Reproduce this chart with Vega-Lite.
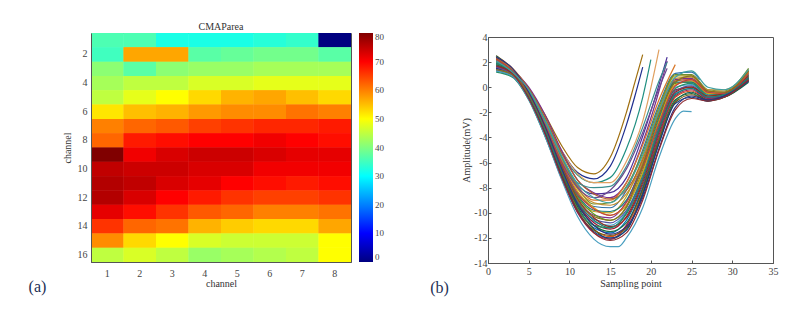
{"$schema":"https://vega.github.io/schema/vega-lite/v6.json","background":"white","padding":{"left":28,"top":21,"right":0,"bottom":0},"spacing":44,"config":{"view":{"stroke":"#555","strokeWidth":1},"font":"Liberation Serif","axis":{"grid":false,"labelFont":"Liberation Serif","titleFont":"Liberation Serif","labelFontSize":10,"titleFontSize":10,"labelColor":"#444","titleColor":"#333","titleFontWeight":"normal","domainColor":"#555","tickColor":"#555","tickSize":-3,"labelPadding":6,"labelAngle":0,"labelOverlap":false,"labelBound":false,"labelFlush":false},"legend":{"labelFont":"Liberation Serif","labelFontSize":9,"labelColor":"#444"}},"hconcat":[{"width":260,"height":229,"title":{"text":"CMAParea","font":"Liberation Serif","fontSize":10,"fontWeight":"normal","color":"#333","offset":1},"layer":[{"data":{"values":[
{"r":1,"c":1,"v":36},{"r":1,"c":2,"v":36},{"r":1,"c":3,"v":32},{"r":1,"c":4,"v":32},{"r":1,"c":5,"v":32},{"r":1,"c":6,"v":33},{"r":1,"c":7,"v":34},{"r":1,"c":8,"v":0},
{"r":2,"c":1,"v":35},{"r":2,"c":2,"v":57},{"r":2,"c":3,"v":57},{"r":2,"c":4,"v":37},{"r":2,"c":5,"v":38},{"r":2,"c":6,"v":39},{"r":2,"c":7,"v":39},{"r":2,"c":8,"v":37},
{"r":3,"c":1,"v":41},{"r":3,"c":2,"v":37},{"r":3,"c":3,"v":41},{"r":3,"c":4,"v":42},{"r":3,"c":5,"v":42},{"r":3,"c":6,"v":43},{"r":3,"c":7,"v":43},{"r":3,"c":8,"v":43},
{"r":4,"c":1,"v":43},{"r":4,"c":2,"v":45},{"r":4,"c":3,"v":45},{"r":4,"c":4,"v":47},{"r":4,"c":5,"v":47},{"r":4,"c":6,"v":48},{"r":4,"c":7,"v":48},{"r":4,"c":8,"v":48},
{"r":5,"c":1,"v":45},{"r":5,"c":2,"v":48},{"r":5,"c":3,"v":50},{"r":5,"c":4,"v":53},{"r":5,"c":5,"v":56},{"r":5,"c":6,"v":57},{"r":5,"c":7,"v":55},{"r":5,"c":8,"v":53},
{"r":6,"c":1,"v":52},{"r":6,"c":2,"v":55},{"r":6,"c":3,"v":56},{"r":6,"c":4,"v":58},{"r":6,"c":5,"v":59},{"r":6,"c":6,"v":59},{"r":6,"c":7,"v":61},{"r":6,"c":8,"v":60},
{"r":7,"c":1,"v":60},{"r":7,"c":2,"v":62},{"r":7,"c":3,"v":63},{"r":7,"c":4,"v":65},{"r":7,"c":5,"v":66},{"r":7,"c":6,"v":67},{"r":7,"c":7,"v":67},{"r":7,"c":8,"v":68},
{"r":8,"c":1,"v":62},{"r":8,"c":2,"v":68},{"r":8,"c":3,"v":69},{"r":8,"c":4,"v":70},{"r":8,"c":5,"v":70},{"r":8,"c":6,"v":71},{"r":8,"c":7,"v":70},{"r":8,"c":8,"v":69},
{"r":9,"c":1,"v":80},{"r":9,"c":2,"v":71},{"r":9,"c":3,"v":73},{"r":9,"c":4,"v":74},{"r":9,"c":5,"v":74},{"r":9,"c":6,"v":73},{"r":9,"c":7,"v":72},{"r":9,"c":8,"v":72},
{"r":10,"c":1,"v":75},{"r":10,"c":2,"v":74},{"r":10,"c":3,"v":74},{"r":10,"c":4,"v":73},{"r":10,"c":5,"v":73},{"r":10,"c":6,"v":71},{"r":10,"c":7,"v":71},{"r":10,"c":8,"v":71},
{"r":11,"c":1,"v":76},{"r":11,"c":2,"v":75},{"r":11,"c":3,"v":73},{"r":11,"c":4,"v":72},{"r":11,"c":5,"v":70},{"r":11,"c":6,"v":69},{"r":11,"c":7,"v":68},{"r":11,"c":8,"v":69},
{"r":12,"c":1,"v":76},{"r":12,"c":2,"v":73},{"r":12,"c":3,"v":70},{"r":12,"c":4,"v":68},{"r":12,"c":5,"v":66},{"r":12,"c":6,"v":65},{"r":12,"c":7,"v":65},{"r":12,"c":8,"v":66},
{"r":13,"c":1,"v":72},{"r":13,"c":2,"v":69},{"r":13,"c":3,"v":66},{"r":13,"c":4,"v":63},{"r":13,"c":5,"v":62},{"r":13,"c":6,"v":60},{"r":13,"c":7,"v":60},{"r":13,"c":8,"v":61},
{"r":14,"c":1,"v":66},{"r":14,"c":2,"v":62},{"r":14,"c":3,"v":61},{"r":14,"c":4,"v":56},{"r":14,"c":5,"v":54},{"r":14,"c":6,"v":53},{"r":14,"c":7,"v":53},{"r":14,"c":8,"v":57},
{"r":15,"c":1,"v":59},{"r":15,"c":2,"v":53},{"r":15,"c":3,"v":50},{"r":15,"c":4,"v":47},{"r":15,"c":5,"v":46},{"r":15,"c":6,"v":46},{"r":15,"c":7,"v":46},{"r":15,"c":8,"v":50},
{"r":16,"c":1,"v":45},{"r":16,"c":2,"v":47},{"r":16,"c":3,"v":45},{"r":16,"c":4,"v":42},{"r":16,"c":5,"v":43},{"r":16,"c":6,"v":44},{"r":16,"c":7,"v":45},{"r":16,"c":8,"v":50}
]},"encoding":{"x":{"field":"c","type":"ordinal","title":"channel","scale":{"paddingInner":0,"paddingOuter":0},"axis":{"tickSize":0,"titlePadding":0}},"y":{"field":"r","type":"ordinal","title":"channel","scale":{"paddingInner":0,"paddingOuter":0},"axis":{"values":[2,4,6,8,10,12,14,16],"tickSize":0,"labelPadding":4,"titlePadding":5}},"color":{"field":"v","type":"quantitative","scale":{"domain":[0,10,30,50,70,80],"range":["#000080","#0000ff","#00ffff","#ffff00","#ff0000","#800000"],"interpolate":"rgb"},"legend":{"title":null,"type":"gradient","values":[0,10,20,30,40,50,60,70,80],"gradientLength":229,"gradientThickness":14,"offset":8}}},"layer":[{"mark":{"type":"rect"}},{"mark":{"type":"rect"}}]},{"data":{"values":[{"label":"(a)","px":-0.24,"py":-0.11}]},"mark":{"type":"text","font":"Liberation Serif","fontSize":16,"color":"#1c2f55","align":"left"},"encoding":{"x":{"field":"px","type":"quantitative","scale":{"domain":[0,1]},"axis":null},"y":{"field":"py","type":"quantitative","scale":{"domain":[0,1]},"axis":null},"text":{"field":"label"}}}],"resolve":{"scale":{"x":"independent","y":"independent"},"axis":{"x":"independent","y":"independent"}}},{"spacing":-5,"vconcat":[{"width":285,"height":3,"view":{"stroke":null},"data":{"values":[]},"mark":{"type":"rule"},"encoding":{}},{"width":285,"height":226,"layer":[{"data":{"values":[
{"s":1,"x":1,"y":2.3},{"s":1,"x":3,"y":1.5},{"s":1,"x":5,"y":-0.1},{"s":1,"x":7,"y":-2.2},{"s":1,"x":9,"y":-4.6},{"s":1,"x":11,"y":-6.4},{"s":1,"x":13,"y":-6.9},{"s":1,"x":15,"y":-5.6},{"s":1,"x":17,"y":-2},{"s":1,"x":18,"y":0.3},{"s":1,"x":19,"y":2.6},
{"s":2,"x":1,"y":1.6},{"s":2,"x":3,"y":1.1},{"s":2,"x":5,"y":-0.4},{"s":2,"x":7,"y":-2.5},{"s":2,"x":9,"y":-5},{"s":2,"x":11,"y":-6.8},{"s":2,"x":13,"y":-7.3},{"s":2,"x":15,"y":-6.3},{"s":2,"x":17,"y":-3},{"s":2,"x":18,"y":-0.8},{"s":2,"x":19,"y":1.6},
{"s":3,"x":1,"y":2},{"s":3,"x":3,"y":1.2},{"s":3,"x":5,"y":-0.3},{"s":3,"x":7,"y":-2.6},{"s":3,"x":9,"y":-5.2},{"s":3,"x":11,"y":-7},{"s":3,"x":13,"y":-7.6},{"s":3,"x":15,"y":-7.2},{"s":3,"x":17,"y":-4.9},{"s":3,"x":19,"y":-0.8},{"s":3,"x":20,"y":2.2},
{"s":4,"x":1,"y":2.2},{"s":4,"x":3,"y":1.3},{"s":4,"x":5,"y":-0.2},{"s":4,"x":7,"y":-2.4},{"s":4,"x":9,"y":-5},{"s":4,"x":11,"y":-6.9},{"s":4,"x":13,"y":-7.6},{"s":4,"x":15,"y":-7.6},{"s":4,"x":17,"y":-5.9},{"s":4,"x":19,"y":-2.7},{"s":4,"x":21,"y":3},
{"s":5,"x":1,"y":1.7},{"s":5,"x":3,"y":1.1},{"s":5,"x":5,"y":-0.5},{"s":5,"x":7,"y":-2.9},{"s":5,"x":9,"y":-5.7},{"s":5,"x":11,"y":-7.8},{"s":5,"x":13,"y":-8.5},{"s":5,"x":15,"y":-8.4},{"s":5,"x":17,"y":-7.2},{"s":5,"x":19,"y":-3.9},{"s":5,"x":21,"y":0.2},{"s":5,"x":22,"y":2.4},
{"s":6,"x":1,"y":2.3},{"s":6,"x":3,"y":1.4},{"s":6,"x":5,"y":0},{"s":6,"x":7,"y":-2.2},{"s":6,"x":9,"y":-5},{"s":6,"x":11,"y":-7.4},{"s":6,"x":13,"y":-8.4},{"s":6,"x":15,"y":-8.8},{"s":6,"x":17,"y":-7.6},{"s":6,"x":19,"y":-4.4},{"s":6,"x":21,"y":-0.3},{"s":6,"x":22,"y":2.1},
{"s":7,"x":1,"y":2.5},{"s":7,"x":3,"y":1.5},{"s":7,"x":5,"y":-0.2},{"s":7,"x":7,"y":-2.6},{"s":7,"x":9,"y":-5.5},{"s":7,"x":11,"y":-7.9},{"s":7,"x":13,"y":-9},{"s":7,"x":15,"y":-9},{"s":7,"x":17,"y":-7.6},{"s":7,"x":19,"y":-4.6},{"s":7,"x":21,"y":-1},{"s":7,"x":23,"y":1.8},
{"s":8,"x":1,"y":1.9},{"s":8,"x":3,"y":1.2},{"s":8,"x":5,"y":-0.5},{"s":8,"x":7,"y":-3},{"s":8,"x":9,"y":-6},{"s":8,"x":11,"y":-8.4},{"s":8,"x":13,"y":-9.5},{"s":8,"x":15,"y":-9.6},{"s":8,"x":17,"y":-8.2},{"s":8,"x":19,"y":-5},{"s":8,"x":21,"y":-1.4},{"s":8,"x":23,"y":1.1},{"s":8,"x":25,"y":1.2},{"s":8,"x":26,"y":0.6},
{"s":9,"x":1,"y":2.1},{"s":9,"x":3,"y":1.3},{"s":9,"x":5,"y":-0.6},{"s":9,"x":7,"y":-3.2},{"s":9,"x":9,"y":-6.3},{"s":9,"x":11,"y":-8.8},{"s":9,"x":13,"y":-9.9},{"s":9,"x":15,"y":-10},{"s":9,"x":17,"y":-8.7},{"s":9,"x":19,"y":-5.6},{"s":9,"x":21,"y":-1.8},{"s":9,"x":23,"y":0.9},{"s":9,"x":25,"y":0.9},{"s":9,"x":27,"y":-0.3},{"s":9,"x":29,"y":-0.4},{"s":9,"x":32,"y":1.4},
{"s":10,"x":1,"y":1.5},{"s":10,"x":3,"y":1},{"s":10,"x":5,"y":-0.7},{"s":10,"x":7,"y":-3.3},{"s":10,"x":9,"y":-6.4},{"s":10,"x":11,"y":-8.9},{"s":10,"x":13,"y":-10.2},{"s":10,"x":15,"y":-10.4},{"s":10,"x":17,"y":-9.1},{"s":10,"x":19,"y":-6},{"s":10,"x":21,"y":-2},{"s":10,"x":23,"y":0.6},{"s":10,"x":25,"y":0.7},{"s":10,"x":27,"y":-0.4},{"s":10,"x":29,"y":-0.5},{"s":10,"x":32,"y":1.2},
{"s":11,"x":1,"y":2.4},{"s":11,"x":3,"y":1.4},{"s":11,"x":5,"y":-0.4},{"s":11,"x":7,"y":-3},{"s":11,"x":9,"y":-6.1},{"s":11,"x":11,"y":-8.7},{"s":11,"x":13,"y":-10.1},{"s":11,"x":15,"y":-10.6},{"s":11,"x":17,"y":-9.6},{"s":11,"x":19,"y":-6.6},{"s":11,"x":21,"y":-2.6},{"s":11,"x":23,"y":0.3},{"s":11,"x":25,"y":0.4},{"s":11,"x":27,"y":-0.5},{"s":11,"x":29,"y":-0.6},{"s":11,"x":32,"y":1},
{"s":12,"x":1,"y":1.8},{"s":12,"x":3,"y":1.1},{"s":12,"x":5,"y":-0.8},{"s":12,"x":7,"y":-3.5},{"s":12,"x":9,"y":-6.7},{"s":12,"x":11,"y":-9.3},{"s":12,"x":13,"y":-10.7},{"s":12,"x":15,"y":-11},{"s":12,"x":17,"y":-9.9},{"s":12,"x":19,"y":-6.9},{"s":12,"x":21,"y":-2.9},{"s":12,"x":23,"y":0},{"s":12,"x":25,"y":0.2},{"s":12,"x":27,"y":-0.7},{"s":12,"x":29,"y":-0.6},{"s":12,"x":32,"y":0.9},
{"s":13,"x":1,"y":2.3},{"s":13,"x":3,"y":1.3},{"s":13,"x":5,"y":-0.6},{"s":13,"x":7,"y":-3.3},{"s":13,"x":9,"y":-6.5},{"s":13,"x":11,"y":-9.2},{"s":13,"x":13,"y":-10.8},{"s":13,"x":15,"y":-11.3},{"s":13,"x":17,"y":-10.3},{"s":13,"x":19,"y":-7.4},{"s":13,"x":21,"y":-3.2},{"s":13,"x":23,"y":-0.2},{"s":13,"x":25,"y":0},{"s":13,"x":27,"y":-0.8},{"s":13,"x":29,"y":-0.7},{"s":13,"x":32,"y":0.8},
{"s":14,"x":1,"y":1.3},{"s":14,"x":3,"y":0.9},{"s":14,"x":5,"y":-0.9},{"s":14,"x":7,"y":-3.7},{"s":14,"x":9,"y":-7},{"s":14,"x":11,"y":-9.7},{"s":14,"x":13,"y":-11.2},{"s":14,"x":15,"y":-11.6},{"s":14,"x":17,"y":-10.6},{"s":14,"x":19,"y":-7.8},{"s":14,"x":21,"y":-3.6},{"s":14,"x":23,"y":-0.5},{"s":14,"x":25,"y":-0.1},{"s":14,"x":27,"y":-0.9},{"s":14,"x":29,"y":-0.7},{"s":14,"x":32,"y":0.6},
{"s":15,"x":1,"y":2},{"s":15,"x":3,"y":1.2},{"s":15,"x":5,"y":-0.7},{"s":15,"x":7,"y":-3.5},{"s":15,"x":9,"y":-6.8},{"s":15,"x":11,"y":-9.6},{"s":15,"x":13,"y":-11.3},{"s":15,"x":15,"y":-11.9},{"s":15,"x":17,"y":-11},{"s":15,"x":19,"y":-8.2},{"s":15,"x":21,"y":-4},{"s":15,"x":23,"y":-0.8},{"s":15,"x":25,"y":-0.3},{"s":15,"x":27,"y":-1},{"s":15,"x":29,"y":-0.8},{"s":15,"x":32,"y":0.5},
{"s":16,"x":1,"y":2.5},{"s":16,"x":3,"y":1.4},{"s":16,"x":5,"y":-0.5},{"s":16,"x":7,"y":-3.2},{"s":16,"x":9,"y":-6.6},{"s":16,"x":11,"y":-9.5},{"s":16,"x":13,"y":-11.3},{"s":16,"x":15,"y":-12.1},{"s":16,"x":17,"y":-11.3},{"s":16,"x":19,"y":-8.6},{"s":16,"x":21,"y":-4.4},{"s":16,"x":23,"y":-1.1},{"s":16,"x":25,"y":-0.4},{"s":16,"x":27,"y":-1},{"s":16,"x":29,"y":-0.8},{"s":16,"x":32,"y":0.4},
{"s":17,"x":1,"y":1.6},{"s":17,"x":3,"y":1},{"s":17,"x":5,"y":-0.9},{"s":17,"x":7,"y":-3.8},{"s":17,"x":9,"y":-7.2},{"s":17,"x":11,"y":-10},{"s":17,"x":13,"y":-11.6},{"s":17,"x":15,"y":-12.1},{"s":17,"x":17,"y":-11},{"s":17,"x":19,"y":-8},{"s":17,"x":21,"y":-3.8},{"s":17,"x":23,"y":-0.7},{"s":17,"x":25,"y":-0.2},{"s":17,"x":27,"y":-0.9},{"s":17,"x":29,"y":-0.7},{"s":17,"x":32,"y":0.6},
{"s":18,"x":1,"y":1.2},{"s":18,"x":3,"y":0.8},{"s":18,"x":5,"y":-1},{"s":18,"x":7,"y":-3.9},{"s":18,"x":9,"y":-7.1},{"s":18,"x":11,"y":-9.7},{"s":18,"x":13,"y":-11},{"s":18,"x":15,"y":-11.2},{"s":18,"x":17,"y":-10},{"s":18,"x":19,"y":-7},{"s":18,"x":21,"y":-3},{"s":18,"x":23,"y":-0.1},{"s":18,"x":25,"y":0.3},{"s":18,"x":27,"y":-0.7},{"s":18,"x":29,"y":-0.6},{"s":18,"x":32,"y":0.8},
{"s":19,"x":1,"y":2.2},{"s":19,"x":3,"y":1.3},{"s":19,"x":5,"y":-0.4},{"s":19,"x":7,"y":-2.9},{"s":19,"x":9,"y":-5.8},{"s":19,"x":11,"y":-8.3},{"s":19,"x":13,"y":-9.6},{"s":19,"x":15,"y":-10.2},{"s":19,"x":17,"y":-9.4},{"s":19,"x":19,"y":-6.8},{"s":19,"x":21,"y":-2.7},{"s":19,"x":23,"y":0.2},{"s":19,"x":25,"y":0.5},{"s":19,"x":27,"y":-0.5},{"s":19,"x":29,"y":-0.5},{"s":19,"x":32,"y":1.1},
{"s":20,"x":1,"y":1.9},{"s":20,"x":3,"y":1.2},{"s":20,"x":5,"y":-0.3},{"s":20,"x":7,"y":-2.7},{"s":20,"x":9,"y":-5.6},{"s":20,"x":11,"y":-8},{"s":20,"x":13,"y":-9.3},{"s":20,"x":15,"y":-9.2},{"s":20,"x":17,"y":-7.9},{"s":20,"x":19,"y":-5.2},{"s":20,"x":21,"y":-1.6},{"s":20,"x":23,"y":1},{"s":20,"x":25,"y":1},{"s":20,"x":27,"y":-0.2},{"s":20,"x":29,"y":-0.3},{"s":20,"x":32,"y":1.5},
{"s":21,"x":1,"y":2.3},{"s":21,"x":3,"y":1.4},{"s":21,"x":5,"y":-0.1},{"s":21,"x":7,"y":-2.4},{"s":21,"x":9,"y":-5.2},{"s":21,"x":11,"y":-7.4},{"s":21,"x":13,"y":-8.5},{"s":21,"x":15,"y":-8.9},{"s":21,"x":17,"y":-8.2},{"s":21,"x":19,"y":-5.8},{"s":21,"x":21,"y":-2.2},{"s":21,"x":23,"y":0.5},{"s":21,"x":25,"y":0.6},{"s":21,"x":27,"y":-0.3},{"s":21,"x":29,"y":-0.4},{"s":21,"x":32,"y":1.3},
{"s":22,"x":1,"y":1.7},{"s":22,"x":3,"y":1.1},{"s":22,"x":5,"y":-0.6},{"s":22,"x":7,"y":-3.1},{"s":22,"x":9,"y":-6.1},{"s":22,"x":11,"y":-8.6},{"s":22,"x":13,"y":-9.8},{"s":22,"x":15,"y":-9.9},{"s":22,"x":17,"y":-9},{"s":22,"x":19,"y":-6.3},{"s":22,"x":21,"y":-2.4},{"s":22,"x":23,"y":0.4},{"s":22,"x":25,"y":0.4},{"s":22,"x":27,"y":-0.6},{"s":22,"x":29,"y":-0.6},{"s":22,"x":32,"y":1},
{"s":23,"x":1,"y":2.4},{"s":23,"x":3,"y":1.4},{"s":23,"x":5,"y":-0.3},{"s":23,"x":7,"y":-2.8},{"s":23,"x":9,"y":-5.7},{"s":23,"x":11,"y":-8.1},{"s":23,"x":13,"y":-9.2},{"s":23,"x":15,"y":-9.4},{"s":23,"x":17,"y":-8.5},{"s":23,"x":19,"y":-6},{"s":23,"x":21,"y":-2.1},{"s":23,"x":23,"y":0.7},{"s":23,"x":25,"y":0.8},{"s":23,"x":27,"y":-0.2},{"s":23,"x":29,"y":-0.2},{"s":23,"x":32,"y":1.2},
{"s":24,"x":1,"y":1.4},{"s":24,"x":3,"y":0.9},{"s":24,"x":5,"y":-0.8},{"s":24,"x":7,"y":-3.4},{"s":24,"x":9,"y":-6.6},{"s":24,"x":11,"y":-9.1},{"s":24,"x":13,"y":-10.5},{"s":24,"x":15,"y":-10.8},{"s":24,"x":17,"y":-9.8},{"s":24,"x":19,"y":-7.2},{"s":24,"x":21,"y":-3.3},{"s":24,"x":23,"y":-0.3},{"s":24,"x":25,"y":0.1},{"s":24,"x":27,"y":-0.8},{"s":24,"x":29,"y":-0.7},{"s":24,"x":32,"y":0.7},
{"s":25,"x":1,"y":2.1},{"s":25,"x":3,"y":1.3},{"s":25,"x":5,"y":-0.5},{"s":25,"x":7,"y":-3.1},{"s":25,"x":9,"y":-6.2},{"s":25,"x":11,"y":-8.9},{"s":25,"x":13,"y":-10.4},{"s":25,"x":15,"y":-11.1},{"s":25,"x":17,"y":-10.4},{"s":25,"x":19,"y":-7.6},{"s":25,"x":21,"y":-3.5},{"s":25,"x":23,"y":-0.4},{"s":25,"x":25,"y":0},{"s":25,"x":27,"y":-0.7},{"s":25,"x":29,"y":-0.5},{"s":25,"x":32,"y":0.9},
{"s":26,"x":1,"y":1.8},{"s":26,"x":3,"y":1.1},{"s":26,"x":5,"y":-0.7},{"s":26,"x":7,"y":-3.6},{"s":26,"x":9,"y":-6.9},{"s":26,"x":11,"y":-9.4},{"s":26,"x":13,"y":-11},{"s":26,"x":15,"y":-11.5},{"s":26,"x":17,"y":-10.8},{"s":26,"x":19,"y":-8.1},{"s":26,"x":21,"y":-4.2},{"s":26,"x":23,"y":-1},{"s":26,"x":25,"y":-0.5},{"s":26,"x":27,"y":-1.1},{"s":26,"x":29,"y":-0.8},{"s":26,"x":32,"y":0.5},
{"s":27,"x":1,"y":2.2},{"s":27,"x":3,"y":1.2},{"s":27,"x":5,"y":-0.6},{"s":27,"x":7,"y":-3.4},{"s":27,"x":9,"y":-6.8},{"s":27,"x":11,"y":-9.8},{"s":27,"x":13,"y":-11.4},{"s":27,"x":15,"y":-11.8},{"s":27,"x":17,"y":-11.2},{"s":27,"x":19,"y":-8.4},{"s":27,"x":21,"y":-4.3},{"s":27,"x":23,"y":-1.2},{"s":27,"x":25,"y":-0.6},{"s":27,"x":27,"y":-1},{"s":27,"x":29,"y":-0.7},{"s":27,"x":32,"y":0.6},
{"s":28,"x":1,"y":1.5},{"s":28,"x":3,"y":1},{"s":28,"x":5,"y":-0.8},{"s":28,"x":7,"y":-3.6},{"s":28,"x":9,"y":-7},{"s":28,"x":11,"y":-9.9},{"s":28,"x":13,"y":-11.5},{"s":28,"x":15,"y":-12},{"s":28,"x":17,"y":-11.4},{"s":28,"x":19,"y":-8.5},{"s":28,"x":21,"y":-4.5},{"s":28,"x":23,"y":-1.3},{"s":28,"x":25,"y":-0.8},{"s":28,"x":27,"y":-1.1},{"s":28,"x":29,"y":-0.7},{"s":28,"x":32,"y":0.7},
{"s":29,"x":1,"y":1.3},{"s":29,"x":3,"y":0.9},{"s":29,"x":5,"y":-1},{"s":29,"x":7,"y":-3.9},{"s":29,"x":9,"y":-7.3},{"s":29,"x":11,"y":-10.3},{"s":29,"x":13,"y":-12.1},{"s":29,"x":15,"y":-12.7},{"s":29,"x":16,"y":-12.7},{"s":29,"x":17,"y":-12},{"s":29,"x":19,"y":-9.6},{"s":29,"x":21,"y":-5.6},{"s":29,"x":23,"y":-2.5},{"s":29,"x":24,"y":-1.9},{"s":29,"x":25,"y":-1.95},
{"s":30,"x":1,"y":2},{"s":30,"x":3,"y":1.3},{"s":30,"x":5,"y":-0.3},{"s":30,"x":7,"y":-2.7},{"s":30,"x":9,"y":-5.5},{"s":30,"x":11,"y":-7.6},{"s":30,"x":13,"y":-8},{"s":30,"x":15,"y":-7.9},{"s":30,"x":17,"y":-6.3},{"s":30,"x":19,"y":-3.2},{"s":30,"x":21,"y":0.5},{"s":30,"x":22,"y":2},
{"s":31,"x":1,"y":1.6},{"s":31,"x":3,"y":1},{"s":31,"x":5,"y":-0.6},{"s":31,"x":7,"y":-3},{"s":31,"x":9,"y":-5.9},{"s":31,"x":11,"y":-8},{"s":31,"x":13,"y":-8.8},{"s":31,"x":15,"y":-8.2},{"s":31,"x":17,"y":-6.5},{"s":31,"x":19,"y":-3.6},{"s":31,"x":21,"y":-0.1},{"s":31,"x":22,"y":1.5},
{"s":32,"x":1,"y":2.2},{"s":32,"x":3,"y":1.3},{"s":32,"x":5,"y":-0.5},{"s":32,"x":7,"y":-3},{"s":32,"x":9,"y":-6},{"s":32,"x":11,"y":-8.5},{"s":32,"x":13,"y":-9.7},{"s":32,"x":15,"y":-10.2},{"s":32,"x":17,"y":-9.2},{"s":32,"x":19,"y":-6.4},{"s":32,"x":21,"y":-2.9},{"s":32,"x":23,"y":0.1},{"s":32,"x":25,"y":0.6},{"s":32,"x":27,"y":-0.4},{"s":32,"x":29,"y":-0.5},{"s":32,"x":32,"y":1.1},
{"s":33,"x":1,"y":1.9},{"s":33,"x":3,"y":1.2},{"s":33,"x":5,"y":-0.7},{"s":33,"x":7,"y":-3.4},{"s":33,"x":9,"y":-6.6},{"s":33,"x":11,"y":-9.2},{"s":33,"x":13,"y":-10.6},{"s":33,"x":15,"y":-11.2},{"s":33,"x":17,"y":-10.1},{"s":33,"x":19,"y":-7.3},{"s":33,"x":21,"y":-3.4},{"s":33,"x":23,"y":-0.6},{"s":33,"x":25,"y":-0.1},{"s":33,"x":27,"y":-0.8},{"s":33,"x":29,"y":-0.6},{"s":33,"x":32,"y":0.7},
{"s":34,"x":1,"y":1.4},{"s":34,"x":3,"y":1},{"s":34,"x":5,"y":-0.6},{"s":34,"x":7,"y":-3.2},{"s":34,"x":9,"y":-6.3},{"s":34,"x":11,"y":-9},{"s":34,"x":13,"y":-10.3},{"s":34,"x":15,"y":-10.6},{"s":34,"x":17,"y":-9.5},{"s":34,"x":19,"y":-6.2},{"s":34,"x":21,"y":-2.2},{"s":34,"x":23,"y":0.4},{"s":34,"x":25,"y":0.9},{"s":34,"x":27,"y":-0.3},{"s":34,"x":29,"y":-0.4},{"s":34,"x":32,"y":1.3},
{"s":35,"x":1,"y":2.4},{"s":35,"x":3,"y":1.5},{"s":35,"x":5,"y":-0.4},{"s":35,"x":7,"y":-3.1},{"s":35,"x":9,"y":-6.4},{"s":35,"x":11,"y":-9.3},{"s":35,"x":13,"y":-11},{"s":35,"x":15,"y":-11.7},{"s":35,"x":17,"y":-11.1},{"s":35,"x":19,"y":-8.8},{"s":35,"x":21,"y":-4.9},{"s":35,"x":23,"y":-1.6},{"s":35,"x":25,"y":-0.7},{"s":35,"x":27,"y":-1},{"s":35,"x":29,"y":-0.7},{"s":35,"x":32,"y":0.5},
{"s":36,"x":1,"y":1.7},{"s":36,"x":3,"y":1.1},{"s":36,"x":5,"y":-0.9},{"s":36,"x":7,"y":-3.7},{"s":36,"x":9,"y":-7.1},{"s":36,"x":11,"y":-9.9},{"s":36,"x":13,"y":-11.6},{"s":36,"x":15,"y":-12.2},{"s":36,"x":17,"y":-11.6},{"s":36,"x":19,"y":-9},{"s":36,"x":21,"y":-5},{"s":36,"x":23,"y":-1.8},{"s":36,"x":25,"y":-0.9},{"s":36,"x":27,"y":-1.1},{"s":36,"x":29,"y":-0.8},{"s":36,"x":32,"y":0.6},
{"s":37,"x":1,"y":2.1},{"s":37,"x":3,"y":1.2},{"s":37,"x":5,"y":-0.2},{"s":37,"x":7,"y":-2.6},{"s":37,"x":9,"y":-5.4},{"s":37,"x":11,"y":-7.7},{"s":37,"x":13,"y":-8.8},{"s":37,"x":15,"y":-9.2},{"s":37,"x":17,"y":-8},{"s":37,"x":19,"y":-5.4},{"s":37,"x":21,"y":-1.9},{"s":37,"x":23,"y":0.8},{"s":37,"x":25,"y":1.3},{"s":37,"x":27,"y":0},{"s":37,"x":29,"y":-0.2},{"s":37,"x":32,"y":1.4}
]},"mark":{"type":"line","strokeWidth":1.2,"interpolate":"monotone"},"encoding":{"x":{"field":"x","type":"quantitative","title":"Sampling point","scale":{"domain":[0,35]},"axis":{"values":[0,5,10,15,20,25,30,35],"tickCount":8,"labelPadding":6,"titlePadding":2}},"y":{"field":"y","type":"quantitative","title":"Amplitude(mV)","scale":{"domain":[-14,4]},"axis":{"values":[-14,-12,-10,-8,-6,-4,-2,0,2,4],"tickCount":10,"labelPadding":4,"titlePadding":2,"labelExpr":"replace(datum.label,'−','-')"}},"detail":{"field":"s","type":"nominal"},"color":{"field":"s","type":"nominal","legend":null,"scale":{"domain":[1,2,3,4,5,6,7,8,9,10,11,12,13,14,15,16,17,18,19,20,21,22,23,24,25,26,27,28,29,30,31,32,33,34,35,36,37],"range":["#a07010","#1f2f8f","#1f8f80","#e0a060","#4a2f98","#7a2f8e","#d9782a","#2f70a8","#b8a020","#7e2f8e","#5f9a20","#3aa0d0","#a2142f","#0072bd","#d95319","#155f50","#a02050","#2a9068","#d8a010","#708f30","#b0602a","#1e7b7b","#c08f30","#5050a0","#903020","#1f6f45","#7a5a10","#123f80","#4a9fc0","#3a8f90","#6a4a90","#c04040","#208070","#8a7020","#303080","#902a30","#40a0a0"]}}}},{"data":{"values":[{"label":"(b)","x":-7.1,"y":-16}]},"mark":{"type":"text","font":"Liberation Serif","fontSize":16,"color":"#1c2f55","align":"left"},"encoding":{"x":{"field":"x","type":"quantitative"},"y":{"field":"y","type":"quantitative"},"text":{"field":"label"}}}]}]}]}
